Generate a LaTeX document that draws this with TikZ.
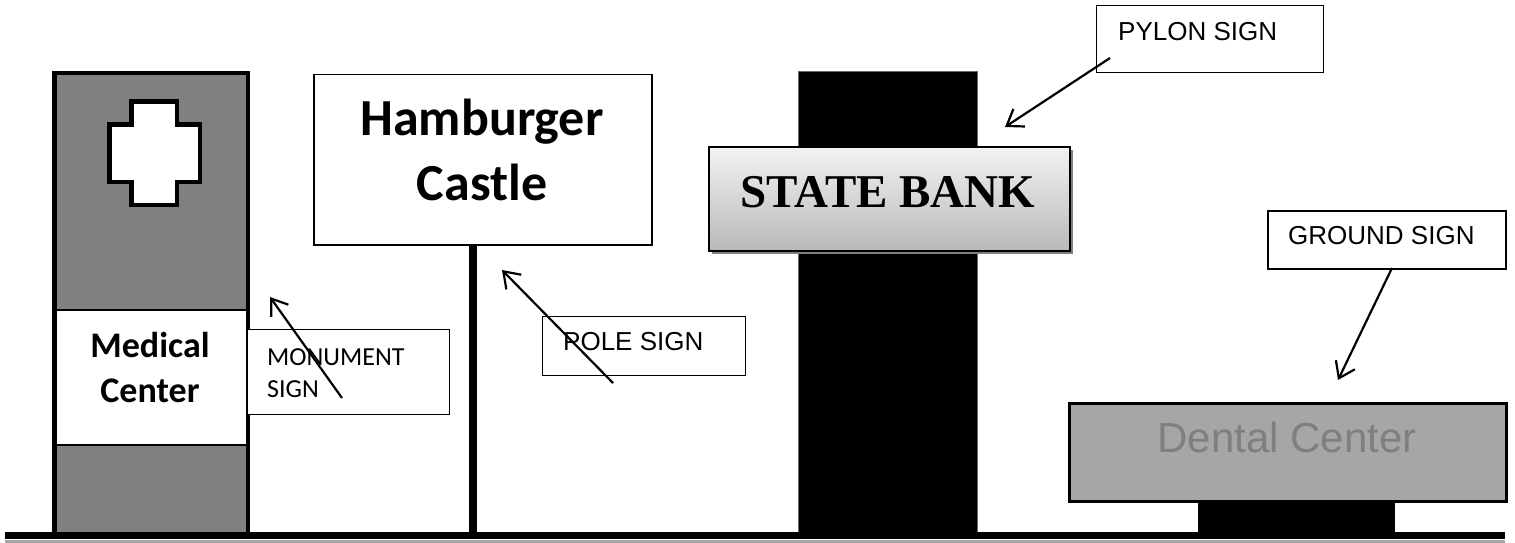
\documentclass[tikz,border=0pt]{standalone}
\usepackage{fontspec}
\setmainfont{Carlito}
\newfontfamily\arialf{Liberation Sans}
\newfontfamily\bankf{Liberation Serif}
\usetikzlibrary{arrows.meta,shadows}
\definecolor{polegray}{HTML}{808080}
\definecolor{dentalgray}{HTML}{A6A6A6}
\definecolor{dentaltext}{HTML}{7F7F7F}
\begin{document}
\begin{tikzpicture}[x=1pt,y=-1pt,
  lbl/.style={draw, line width=1.3, fill=white, anchor=north west, inner sep=0},
  arr/.style={line width=2.2, -{Straight Barb[length=15pt,width=21pt]}},
  sans/.style={font=\arialf\fontsize{26}{31}\selectfont, anchor=base west, inner sep=0}]
\useasboundingbox (0,0) rectangle (1515,543);
% medical monument
\draw[line width=4.5, fill=polegray] (54.25,73.25) rectangle (247.75,534);
\draw[line width=4.5, fill=white] (131.25,101.25) -- (176.75,101.25) -- (176.75,124.25) -- (199.75,124.25) -- (199.75,181.75) -- (176.75,181.75) -- (176.75,204.75) -- (131.25,204.75) -- (131.25,181.75) -- (109.25,181.75) -- (109.25,124.25) -- (131.25,124.25) -- cycle;
\node[draw, line width=1.5, fill=white, anchor=north west, minimum width=191, minimum height=135, inner sep=0] (medpanel) at (55,309) {};
\node[font=\bfseries\fontsize{36}{45}\selectfont, align=center, anchor=base, inner sep=0] (medtext) at (150,402) {Medical\\Center};
\node[lbl, minimum width=202, minimum height=85] (monbox) at (247,329) {};
\node[font=\fontsize{26}{32}\selectfont, align=left, anchor=base west, inner sep=0] (montext) at (267,397) {MONUMENT\\SIGN};
% hamburger pole sign
\fill (469,244) rectangle (477,534);
\node[lbl, line width=1.5, minimum width=338, minimum height=170] (hambox) at (313,74) {};
\node[font=\bfseries\fontsize{52}{65}\selectfont, align=center, anchor=base, inner sep=0] (hamtext) at (482,200) {Hamburger\\Castle};
\node[lbl, minimum width=203, minimum height=59] (polebox) at (542,316) {};
\node[sans] (poletext) at (563,350) {POLE SIGN};
% pylon
\draw[fill=black, draw=gray!80!black] (798,71) rectangle (977,534);
\node[draw, line width=2, top color=gray!10, bottom color=gray!55, drop shadow={shadow xshift=3pt, shadow yshift=-3pt, fill=gray, opacity=1}, anchor=north west, minimum width=361, minimum height=104, inner sep=0] (bankbox) at (708,146) {};
\node[font=\bankf\bfseries\fontsize{47}{52}\selectfont, anchor=base, inner sep=0] (banktext) at (888,207) {STATE BANK};
\node[lbl, minimum width=227, minimum height=67] (pylonbox) at (1096,5) {};
\node[sans] (pylontext) at (1118,41) {PYLON SIGN};
% ground sign
\fill (1198,500) rectangle (1395,534);
\node[draw, line width=3, fill=dentalgray, anchor=north west, minimum width=437, minimum height=98, inner sep=0] (dentbox) at (1068,402) {};
\node[font=\arialf\fontsize{42}{50}\selectfont, text=dentaltext, anchor=base, inner sep=0] (denttext) at (1287,452) {Dental Center};
\node[lbl, line width=2, minimum width=238, minimum height=58] (grdbox) at (1267,210) {};
\node[sans] (grdtext) at (1288,244) {GROUND SIGN};
% ground line
\draw[gray!70, line width=3] (5,541.5) -- (1505,541.5);
\draw[line width=7] (5,535.5) -- (1505,535.5);
% arrows
\coordinate (monTail) at (342,398); \coordinate (monTip) at (270,297);
\coordinate (poleTail) at (613,383); \coordinate (poleTip) at (502,270);
\coordinate (pylTail) at (1110,58); \coordinate (pylTip) at (1005,127);
\coordinate (grdTail) at (1392,268); \coordinate (grdTip) at (1338,380);
\draw[arr] (monTail) -- (monTip);
\draw[arr] (poleTail) -- (poleTip);
\draw[arr] (pylTail) -- (pylTip);
\draw[arr] (grdTail) -- (grdTip);
\end{tikzpicture}
\end{document}
